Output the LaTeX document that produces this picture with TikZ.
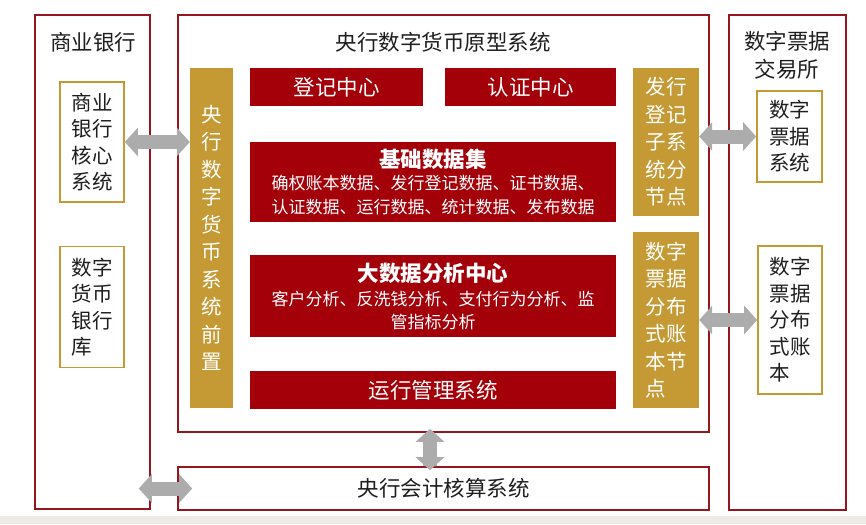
\documentclass[tikz,border=0pt]{standalone}
\usepackage{fontspec}
\setmainfont{Noto Sans CJK SC}
\usetikzlibrary{arrows.meta,positioning}
\newcommand\subtext{\mdseries\fontsize{17}{23}\selectfont}

\begin{document}
\begin{tikzpicture}[x=1pt,y=-1pt]
\definecolor{my_red}{RGB}{163,0,10}
\definecolor{my_red_frame}{RGB}{150,22,32}
\definecolor{my_gold}{RGB}{197,154,52}
\definecolor{my_gray}{RGB}{172,172,172}
\definecolor{my_ink}{RGB}{30,30,30}
\definecolor{my_strip}{RGB}{238,234,232}

\tikzset{
  frame/.style={draw=my_red_frame, line width=1.6pt, inner sep=0pt},
  redbox/.style={fill=my_red, text=white, align=center, inner sep=0pt, font=\fontsize{21.5}{26}\selectfont},
  goldbox/.style={fill=my_gold, text=white, inner sep=0pt, font=\fontsize{20.5}{27.5}\selectfont},
  innerbox/.style={draw=my_gold, line width=1.7pt, inner sep=0pt, text=my_ink, align=left, font=\fontsize{20.5}{26.5}\selectfont},
  heading/.style={text=my_ink, align=center, font=\fontsize{21.5}{28}\selectfont},
  dblarrow/.style={my_gray, line width=14pt, {Triangle[width=28pt,length=13pt]}-{Triangle[width=28pt,length=13pt]}}
}

\useasboundingbox (0,0) rectangle (866,524);
\fill[my_strip] (0,516) rectangle (866,524);

% outer frames
\node[frame, minimum width=115pt, minimum height=494pt] (bank) at (92.5,262) {};
\node[frame, minimum width=531pt, minimum height=417pt] (proto) at (443.5,223.5) {};
\node[frame, minimum width=531pt, minimum height=43pt, heading] (acct) at (443.5,488.5) {央行会计核算系统};
\node[frame, minimum width=117pt, minimum height=495pt] (exch) at (787.5,262.5) {};

\node[heading] (banktitle) at (93,42) {商业银行};
\node[heading] (prototitle) at (443,42) {央行数字货币原型系统};
\node[heading] (exchtitle) at (787,55) {数字票据\\交易所};

% commercial bank side
\node[innerbox, minimum width=64pt, minimum height=120pt] (core) at (92,142) {商业\\银行\\核心\\系统};
\node[innerbox, minimum width=64pt, minimum height=121pt] (vault) at (92,307) {数字\\货币\\银行\\库};

% prototype system
\node[goldbox, align=center, minimum width=43pt, minimum height=340pt] (front) at (211.5,238)
  {央\\行\\数\\字\\货\\币\\系\\统\\前\\置};
\node[redbox, minimum width=173pt, minimum height=38pt] (reg) at (336.5,87) {登记中心};
\node[redbox, minimum width=171pt, minimum height=38pt] (auth) at (530.5,87) {认证中心};
\node[redbox, minimum width=366pt, minimum height=80pt] (basedata) at (433,182)
  {\bfseries 基础数据集\\[-4pt]
   \subtext 确权账本数据、发行登记数据、证书数据、\\[-2pt]\subtext 认证数据、运行数据、统计数据、发布数据};
\node[redbox, minimum width=366pt, minimum height=82pt] (bigdata) at (433,296)
  {\bfseries 大数据分析中心\\[-1pt]
   \subtext 客户分析、反洗钱分析、支付行为分析、监\\[-4pt]\subtext 管指标分析};
\node[redbox, minimum width=366pt, minimum height=38pt] (ops) at (433,390) {运行管理系统};
\node[goldbox, align=left, minimum width=66pt, minimum height=148pt] (issue) at (666,142)
  {发行\\登记\\子系\\统分\\节点};
\node[goldbox, align=left, minimum width=66pt, minimum height=176pt] (ledger) at (666,320)
  {数字\\票据\\分布\\式账\\本节\\点};

% exchange side
\node[innerbox, minimum width=65pt, minimum height=91pt] (ticket) at (789.5,136.5) {数字\\票据\\系统};
\node[innerbox, minimum width=64pt, minimum height=148pt] (ledgerbox) at (790,320) {数字\\票据\\分布\\式账\\本};

% connectors
\draw[dblarrow] (core.east) -- (core.east -| front.west);
\draw[dblarrow] (ticket.west -| issue.east) -- (ticket.west);
\draw[dblarrow] (ledger.east) -- (ledgerbox.west);
\draw[dblarrow] (ops.south |- proto.south) ++(-3,-4) coordinate (vtop) -- (vtop |- acct.north) -- ++(0,4);
\draw[dblarrow] ([xshift=-12pt]bank.east |- acct.west) -- ([xshift=15pt]acct.west);
\end{tikzpicture}
\end{document}
